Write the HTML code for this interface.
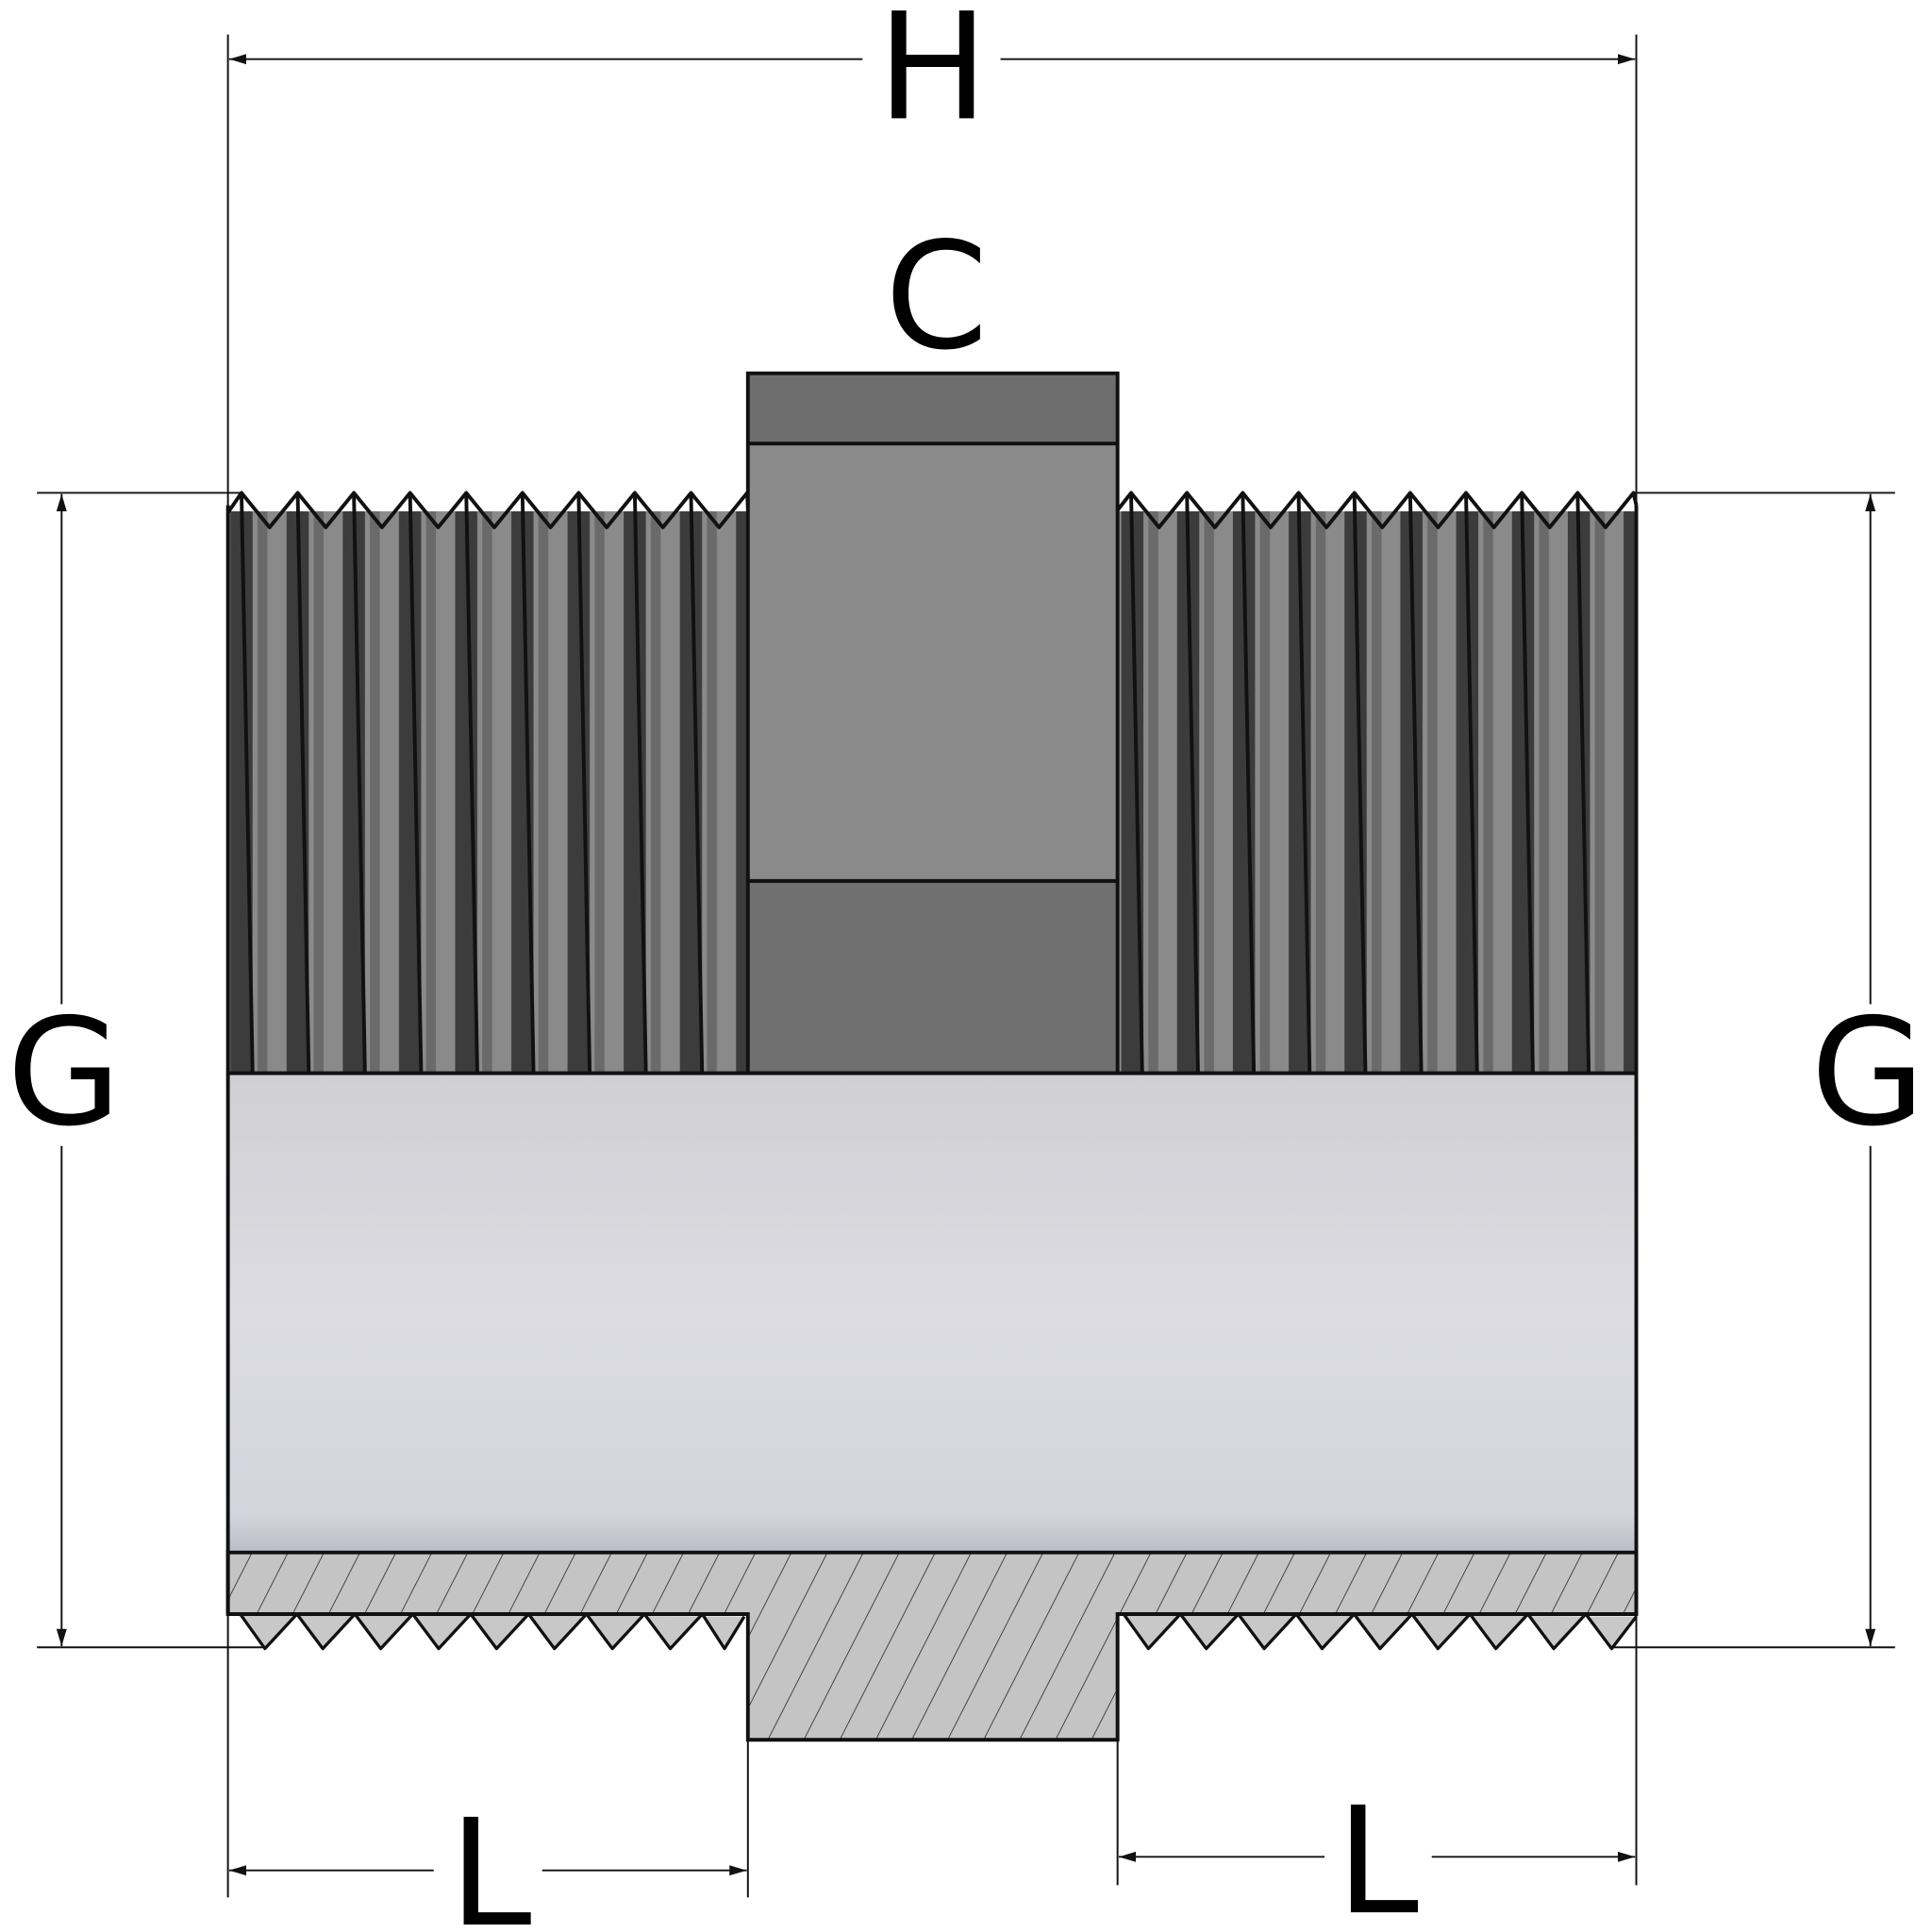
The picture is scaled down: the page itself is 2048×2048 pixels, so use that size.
<!DOCTYPE html>
<html><head><meta charset="utf-8"><style>html,body{margin:0;padding:0;background:#fff}svg{display:block}</style></head>
<body>
<svg width="2048" height="2048" viewBox="0 0 1568 1568" xmlns="http://www.w3.org/2000/svg">
<defs>
<pattern id="stL" patternUnits="userSpaceOnUse" x="185" y="0" width="45.6" height="1568">
<rect width="45.6" height="1568" fill="#8a8a8a"/>
<rect x="2" width="18" height="1568" fill="#3c3c3c"/>
<rect x="24" width="8" height="1568" fill="#6a6a6a"/>
</pattern>
<pattern id="stR" patternUnits="userSpaceOnUse" x="907" y="0" width="45.3" height="1568">
<rect width="45.3" height="1568" fill="#8a8a8a"/>
<rect x="3" width="18" height="1568" fill="#3c3c3c"/>
<rect x="25" width="8" height="1568" fill="#6a6a6a"/>
</pattern>
<pattern id="hatch" patternUnits="userSpaceOnUse" width="26" height="26" patternTransform="rotate(27)">
<rect width="26" height="26" fill="#c4c4c4"/>
<line x1="0" y1="0" x2="0" y2="26" stroke="#222" stroke-width="1.2"/>
</pattern>
<linearGradient id="bore" x1="0" y1="0" x2="0" y2="1">
<stop offset="0" stop-color="#cfcfd4"/>
<stop offset="0.5" stop-color="#dcdce2"/>
<stop offset="0.92" stop-color="#d4d4dc"/>
<stop offset="1" stop-color="#bdbdc8"/>
</linearGradient>
<marker id="ar" viewBox="0 0 10 10" refX="10" refY="5" markerWidth="14" markerHeight="14" markerUnits="userSpaceOnUse" orient="auto-start-reverse">
<path d="M0,2 L10,5 L0,8 z" fill="#111"/>
</marker>
</defs>

<!-- threads -->
<rect x="185" y="415" width="422" height="456" fill="url(#stL)"/>
<rect x="907" y="415" width="421" height="456" fill="url(#stR)"/>
<g stroke="#111" stroke-width="3" fill="none">
<path d="M196,400 l9,471 m36.6,-471 l9,471 m36.6,-471 l9,471 m36.6,-471 l9,471 m36.6,-471 l9,471 m36.6,-471 l9,471 m36.6,-471 l9,471 m36.6,-471 l9,471 m36.6,-471 l9,471"/>
<path d="M918,400 l9,471 m36.3,-471 l9,471 m36.3,-471 l9,471 m36.3,-471 l9,471 m36.3,-471 l9,471 m36.3,-471 l9,471 m36.3,-471 l9,471 m36.3,-471 l9,471 m36.3,-471 l9,471"/>
</g>
<!-- top zigzags -->
<path d="M185,416 L196,400 l22.8,28 22.8,-28 22.8,28 22.8,-28 22.8,28 22.8,-28 22.8,28 22.8,-28 22.8,28 22.8,-28 22.8,28 22.8,-28 22.8,28 22.8,-28 22.8,28 22.8,-28 22.8,28 22.8,-28 L607,412" fill="none" stroke="#111" stroke-width="3" stroke-linejoin="round"/>
<path d="M907,414 L918,400 l22.65,28 22.65,-28 22.65,28 22.65,-28 22.65,28 22.65,-28 22.65,28 22.65,-28 22.65,28 22.65,-28 22.65,28 22.65,-28 22.65,28 22.65,-28 22.65,28 22.65,-28 22.65,28 22.65,-28 L1328,410" fill="none" stroke="#111" stroke-width="3" stroke-linejoin="round"/>

<!-- hex -->
<rect x="607" y="303" width="300" height="57" fill="#6e6e6e"/>
<rect x="607" y="360" width="300" height="355" fill="#8a8a8a"/>
<rect x="607" y="715" width="300" height="156" fill="#707070"/>
<g stroke="#111" stroke-width="3" fill="none">
<rect x="607" y="303" width="300" height="568"/>
<line x1="607" y1="360" x2="907" y2="360"/>
<line x1="607" y1="715" x2="907" y2="715"/>
</g>

<!-- bore -->
<rect x="185" y="871" width="1143" height="389" fill="url(#bore)"/>

<!-- hatched section -->
<path d="M185,1260 H1328 V1310 H907 V1412 H607 V1310 H185 Z" fill="url(#hatch)"/>
<!-- bottom teeth -->
<path d="M185,1310 L195,1310 L215,1338 L241,1310 L262,1338 L288,1310 L309,1338 L335,1310 L356,1338 L382,1310 L403,1338 L429,1310 L450,1338 L476,1310 L497,1338 L523,1310 L544,1338 L570,1310 L588,1338 L604,1312" fill="#c8c8c8" stroke="#111" stroke-width="2.5" stroke-linejoin="round"/>
<path d="M907,1310 L912,1310 L932,1338 L958,1310 L979,1338 L1005,1310 L1026,1338 L1052,1310 L1073,1338 L1099,1310 L1120,1338 L1146,1310 L1167,1338 L1193,1310 L1214,1338 L1240,1310 L1261,1338 L1287,1310 L1308,1338 L1328,1312" fill="#c8c8c8" stroke="#111" stroke-width="2.5" stroke-linejoin="round"/>
<g stroke="#111" stroke-width="3" fill="none">
<path d="M185,1260 H1328 V1310 H907 V1412 H607 V1310 H185 Z"/>
<line x1="185" y1="871" x2="1328" y2="871"/>
<line x1="185" y1="410" x2="185" y2="1310"/>
<line x1="1328" y1="410" x2="1328" y2="1310"/>
</g>

<!-- dimension lines -->
<g stroke="#111" stroke-width="1.5" fill="none">
<line x1="185" y1="28" x2="185" y2="1540"/>
<line x1="1328" y1="28" x2="1328" y2="1530"/>
<line x1="607" y1="1412" x2="607" y2="1540"/>
<line x1="907" y1="1412" x2="907" y2="1530"/>
<line x1="30" y1="400" x2="196" y2="400"/>
<line x1="30" y1="1337" x2="215" y2="1337"/>
<line x1="1326" y1="400" x2="1538" y2="400"/>
<line x1="1308" y1="1337" x2="1538" y2="1337"/>
<line x1="186" y1="48" x2="700" y2="48" marker-start="url(#ar)"/>
<line x1="812" y1="48" x2="1327" y2="48" marker-end="url(#ar)"/>
<line x1="50" y1="401" x2="50" y2="815" marker-start="url(#ar)"/>
<line x1="50" y1="930" x2="50" y2="1336" marker-end="url(#ar)"/>
<line x1="1518" y1="401" x2="1518" y2="815" marker-start="url(#ar)"/>
<line x1="1518" y1="930" x2="1518" y2="1336" marker-end="url(#ar)"/>
<line x1="186" y1="1518" x2="352" y2="1518" marker-start="url(#ar)"/>
<line x1="440" y1="1518" x2="606" y2="1518" marker-end="url(#ar)"/>
<line x1="908" y1="1507" x2="1075" y2="1507" marker-start="url(#ar)"/>
<line x1="1162" y1="1507" x2="1327" y2="1507" marker-end="url(#ar)"/>
</g>

<g font-family="'DejaVu Sans','Liberation Sans',sans-serif" font-size="120" fill="#000" text-anchor="middle">
<text x="757" y="96">H</text>
<text x="760" y="282">C</text>
<text x="52" y="912">G</text>
<text x="1516" y="912">G</text>
<text x="398" y="1562">L</text>
<text x="1118" y="1552">L</text>
</g>
</svg>
</body></html>
